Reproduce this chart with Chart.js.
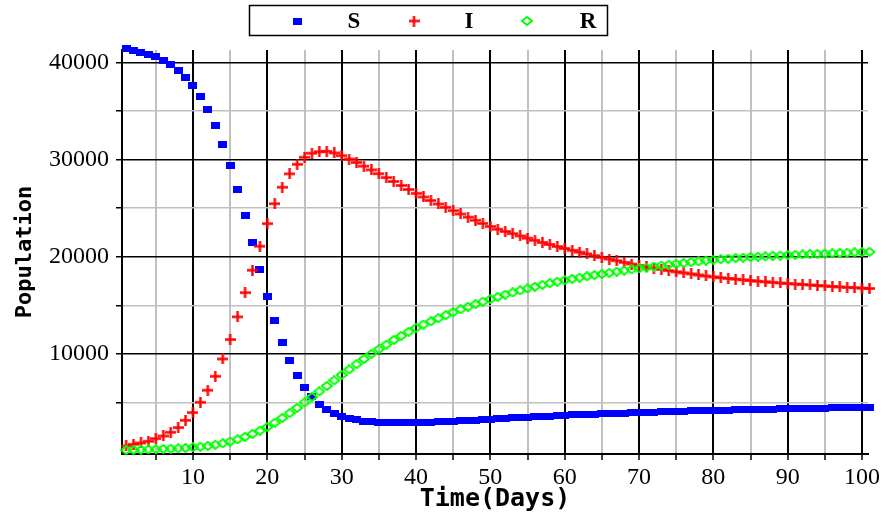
<!DOCTYPE html>
<html>
<head>
<meta charset="utf-8">
<script src="https://cdn.jsdelivr.net/npm/chart.js@4.4.1/dist/chart.umd.min.js"></script>
<style>
  html, body { margin: 0; padding: 0; background: #fff; }
  #wrap { width: 887px; height: 517px; position: relative; }
</style>
</head>
<body>
<div id="wrap"><canvas id="sirChart"></canvas></div>
<script>
// time in days
var days = [
  1, 2, 3, 4, 5, 6, 7, 8, 9, 10,
  11, 12, 13, 14, 15, 16, 17, 18, 19, 20,
  21, 22, 23, 24, 25, 26, 27, 28, 29, 30,
  31, 32, 33, 34, 35, 36, 37, 38, 39, 40,
  41, 42, 43, 44, 45, 46, 47, 48, 49, 50,
  51, 52, 53, 54, 55, 56, 57, 58, 59, 60,
  61, 62, 63, 64, 65, 66, 67, 68, 69, 70,
  71, 72, 73, 74, 75, 76, 77, 78, 79, 80,
  81, 82, 83, 84, 85, 86, 87, 88, 89, 90,
  91, 92, 93, 94, 95, 96, 97, 98, 99, 100,
  101
];

// susceptible
var sValues = [
  41440, 41270, 41060, 40850, 40570, 40240, 39790, 39200, 38480, 37590,
  36460, 35120, 33510, 31590, 29390, 26920, 24280, 21470, 18690, 15940,
  13440, 11200, 9320, 7730, 6540, 5640, 4820, 4300, 3860, 3550,
  3350, 3200, 3090, 3010, 2960, 2930, 2910, 2900, 2905, 2920,
  2945, 2970, 3000, 3035, 3070, 3110, 3150, 3195, 3240, 3290,
  3330, 3370, 3410, 3450, 3490, 3530, 3570, 3610, 3650, 3690,
  3720, 3750, 3780, 3810, 3840, 3865, 3890, 3915, 3940, 3960,
  3985, 4010, 4035, 4060, 4085, 4105, 4125, 4145, 4165, 4185,
  4205, 4225, 4245, 4260, 4280, 4295, 4310, 4325, 4340, 4355,
  4370, 4385, 4400, 4415, 4430, 4440, 4455, 4470, 4480, 4495,
  4505
];

// infected
var iValues = [
  525, 700, 835, 1010, 1285, 1555, 1935, 2420, 3170, 3960,
  5020, 6260, 7700, 9480, 11480, 13810, 16300, 18610, 21080, 23400,
  25450, 27150, 28530, 29510, 30230, 30650, 30800, 30850, 30680, 30400,
  30050, 29700, 29320, 28930, 28540, 28140, 27740, 27330, 26920, 26520,
  26150, 25790, 25430, 25080, 24740, 24400, 24070, 23750, 23430, 23120,
  22830, 22600, 22370, 22140, 21910, 21690, 21470, 21260, 21050, 20850,
  20660, 20470, 20290, 20110, 19930, 19760, 19590, 19420, 19250, 19090,
  18950, 18820, 18690, 18570, 18450, 18340, 18230, 18120, 18020, 17920,
  17840, 17760, 17690, 17620, 17550, 17480, 17420, 17360, 17300, 17240,
  17190, 17140, 17090, 17040, 16990, 16940, 16890, 16850, 16810, 16770,
  16730
];

// recovered
var rValues = [
  100, 120, 140, 165, 190, 215, 245, 280, 320, 380,
  450, 540, 650, 800, 980, 1200, 1460, 1760, 2100, 2480,
  2920, 3400, 3900, 4440, 5000, 5570, 6140, 6700, 7270, 7840,
  8400, 8940, 9470, 9990, 10480, 10960, 11420, 11860, 12280, 12680,
  13020, 13350, 13670, 13980, 14280, 14570, 14850, 15120, 15380, 15630,
  15870, 16100, 16320, 16530, 16730, 16920, 17100, 17270, 17430, 17580,
  17720, 17850, 17980, 18100, 18220, 18340, 18460, 18580, 18690, 18790,
  18890, 18990, 19090, 19180, 19270, 19360, 19440, 19520, 19600, 19680,
  19740, 19800, 19860, 19910, 19960, 20000, 20040, 20080, 20120, 20160,
  20200, 20230, 20260, 20290, 20320, 20350, 20380, 20410, 20440, 20470,
  20500
];

var xTicks = [5, 10, 15, 20, 25, 30, 35, 40, 45, 50, 55, 60, 65, 70, 75, 80, 85, 90, 95, 100];
var yTicks = [5000, 10000, 15000, 20000, 25000, 30000, 35000, 40000];
var seriesNames = ['S', 'I', 'R'];

function toPoints(values) {
  var pts = [];
  for (var i = 0; i < days.length; i++) {
    pts.push({ x: days[i], y: values[i] });
  }
  return pts;
}

// marker images
function squareMarker() {
  var c = document.createElement('canvas');
  c.width = 9; c.height = 7;
  var g = c.getContext('2d');
  g.fillStyle = '#0000ff';
  g.fillRect(0, 0, 9, 7);
  return c;
}
function crossMarker() {
  var c = document.createElement('canvas');
  c.width = 11; c.height = 11;
  var g = c.getContext('2d');
  g.strokeStyle = '#ff0000';
  g.lineWidth = 2.4;
  g.beginPath();
  g.moveTo(0, 5.5); g.lineTo(11, 5.5);
  g.moveTo(5.5, 0); g.lineTo(5.5, 11);
  g.stroke();
  return c;
}
function diamondMarker() {
  var c = document.createElement('canvas');
  c.width = 12; c.height = 10;
  var g = c.getContext('2d');
  g.strokeStyle = '#00ff00';
  g.lineWidth = 2;
  g.beginPath();
  g.moveTo(6, 1); g.lineTo(11, 5); g.lineTo(6, 9); g.lineTo(1, 5);
  g.closePath();
  g.stroke();
  return c;
}

var markers = [squareMarker(), crossMarker(), diamondMarker()];

// boxed legend at the top
var boxLegend = {
  id: 'boxLegend',
  afterDraw: function(chart) {
    var ctx = chart.ctx;
    ctx.save();
    ctx.strokeStyle = '#000';
    ctx.lineWidth = 1.5;
    ctx.strokeRect(249.5, 5.5, 358, 30);
    var markX = [297, 414, 527];
    var textX = [354, 469, 588];
    ctx.font = 'bold 23px "Liberation Serif"';
    ctx.fillStyle = '#000';
    ctx.textAlign = 'center';
    ctx.textBaseline = 'middle';
    for (var i = 0; i < seriesNames.length; i++) {
      var m = markers[i];
      ctx.drawImage(m, markX[i] - m.width / 2, 21 - m.height / 2);
      ctx.fillText(seriesNames[i], textX[i], 22);
    }
    ctx.restore();
  }
};

function gridColor(ctx) {
  if (!ctx.tick) return '#c0c0c0';
  return ctx.tick.value % 10 === 0 ? '#000' : '#c0c0c0';
}
function gridColorY(ctx) {
  if (!ctx.tick) return '#c0c0c0';
  return ctx.tick.value % 10000 === 0 ? '#000' : '#c0c0c0';
}

var sirCtx = document.getElementById('sirChart').getContext('2d');
var sirChart = new Chart(sirCtx, {
  type: 'scatter',
  data: {
    datasets: [{
      label: seriesNames[0],
      data: toPoints(sValues),
      pointStyle: markers[0],
      order: 3,
      clip: false
    }, {
      label: seriesNames[1],
      data: toPoints(iValues),
      pointStyle: markers[1],
      order: 2,
      clip: false
    }, {
      label: seriesNames[2],
      data: toPoints(rValues),
      pointStyle: markers[2],
      order: 1,
      clip: false
    }]
  },
  options: {
    responsive: true,
    maintainAspectRatio: false,
    animation: false,
    devicePixelRatio: 1,
    layout: { padding: { top: 50, right: 19, left: 0, bottom: 0 } },
    plugins: {
      legend: { display: false },
      tooltip: { enabled: false }
    },
    scales: {
      x: {
        type: 'linear',
        min: 0.45,
        max: 100.8,
        afterBuildTicks: function(scale) {
          scale.ticks = xTicks.map(function(v) { return { value: v }; });
        },
        afterFit: function(scale) { scale.height = 63; },
        ticks: {
          autoSkip: false,
          maxRotation: 0,
          padding: 3,
          color: '#000',
          font: { family: '"Liberation Serif"', size: 24 },
          callback: function(v) { return v % 10 === 0 ? v : ''; }
        },
        grid: {
          color: gridColor,
          lineWidth: 2,
          tickColor: '#000',
          tickLength: 6,
          tickWidth: 1.5
        },
        border: { color: '#000', width: 2 },
        title: {
          display: true,
          text: 'Time(Days)',
          color: '#000',
          padding: { top: 0, bottom: 3 },
          font: { family: '"DejaVu Sans Mono"', size: 25, weight: 'bold' }
        }
      },
      y: {
        type: 'linear',
        min: -300,
        max: 41270,
        afterBuildTicks: function(scale) {
          scale.ticks = yTicks.map(function(v) { return { value: v }; });
        },
        afterFit: function(scale) { scale.width = 122; },
        ticks: {
          padding: 7,
          color: '#000',
          font: { family: '"Liberation Serif"', size: 24 },
          callback: function(v) { return v % 10000 === 0 ? v : ''; }
        },
        grid: {
          color: gridColorY,
          lineWidth: 1.5,
          tickColor: '#000',
          tickLength: 6,
          tickWidth: 1.5
        },
        border: { color: '#000', width: 2 },
        title: {
          display: true,
          text: 'Population',
          color: '#000',
          padding: { top: 12, bottom: 0 },
          font: { family: '"DejaVu Sans Mono"', size: 22, weight: 'bold' }
        }
      }
    }
  },
  plugins: [boxLegend]
});
</script>
</body>
</html>
